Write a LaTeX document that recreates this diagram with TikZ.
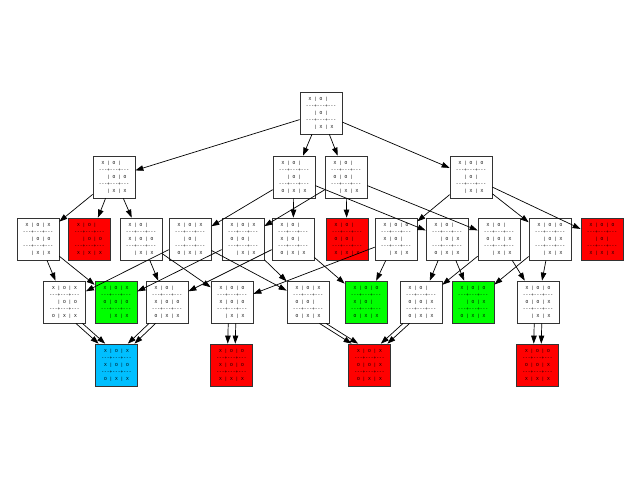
\documentclass[tikz,border=0pt]{standalone}
\usepackage{fontspec}
\newfontfamily\bfont{Liberation Mono}
\usetikzlibrary{arrows.meta}
\definecolor{xwin}{RGB}{255,0,0}
\definecolor{owin}{RGB}{0,255,0}
\definecolor{drawc}{RGB}{0,191,255}
\newcommand\rw[3]{\makebox[8.28pt]{#1}|\makebox[8.28pt]{#2}|\makebox[8.28pt]{#3}}
\newcommand\dl{-{}-{}-+-{}-{}-+-{}-{}-}
\newcommand\bd[9]{\rw{#1}{#2}{#3}\\\dl\\\rw{#4}{#5}{#6}\\\dl\\\rw{#7}{#8}{#9}}
\tikzset{
  board/.style={draw=black!80, line width=0.7pt, fill=white, minimum width=42pt, minimum height=42pt,
    inner sep=0pt, align=center, font=\bfont\fontsize{4.6}{7}\selectfont},
  xw/.style={board, fill=xwin},
  ow/.style={board, fill=owin},
  dr/.style={board, fill=drawc},
  edge/.style={draw=black, line width=0.7pt, -{Triangle[length=8pt,width=5.5pt]}}
}
\begin{document}
\begin{tikzpicture}[x=1pt,y=-1pt]
\useasboundingbox (0,0) rectangle (640,480);
% level 0
\node[board] (r) at (321,113) {\bd{X}{O}{}{}{O}{}{}{X}{X}};
% level 1
\node[board] (a) at (114,177) {\bd{X}{O}{}{}{O}{O}{}{X}{X}};
\node[board] (b) at (294,177) {\bd{X}{O}{}{}{O}{}{O}{X}{X}};
\node[board] (c) at (346,177) {\bd{X}{O}{}{O}{O}{}{}{X}{X}};
\node[board] (d) at (471,177) {\bd{X}{O}{O}{}{O}{}{}{X}{X}};
% level 2
\node[board] (p1) at (38,239) {\bd{X}{O}{X}{}{O}{O}{}{X}{X}};
\node[xw] (p2) at (89.5,239) {\bd{X}{O}{}{}{O}{O}{X}{X}{X}};
\node[board] (p3) at (141,239) {\bd{X}{O}{}{X}{O}{O}{}{X}{X}};
\node[board] (p4) at (190,239) {\bd{X}{O}{X}{}{O}{}{O}{X}{X}};
\node[board] (p5) at (243,239) {\bd{X}{O}{X}{O}{O}{}{}{X}{X}};
\node[board] (p6) at (293,239) {\bd{X}{O}{}{X}{O}{}{O}{X}{X}};
\node[xw] (p7) at (347,239) {\bd{X}{O}{}{O}{O}{}{X}{X}{X}};
\node[board] (p8) at (396,239) {\bd{X}{O}{O}{X}{O}{}{}{X}{X}};
\node[board] (p9) at (447,239) {\bd{X}{O}{}{}{O}{X}{O}{X}{X}};
\node[board] (p10) at (499,239) {\bd{X}{O}{}{O}{O}{X}{}{X}{X}};
\node[board] (p11) at (550,239) {\bd{X}{O}{O}{}{O}{X}{}{X}{X}};
\node[xw] (p12) at (602,239) {\bd{X}{O}{O}{}{O}{}{X}{X}{X}};
% level 3
\node[board] (q1) at (64.5,302) {\bd{X}{O}{X}{}{O}{O}{O}{X}{X}};
\node[ow] (q2) at (116,302) {\bd{X}{O}{X}{O}{O}{O}{}{X}{X}};
\node[board] (q3) at (167,302) {\bd{X}{O}{}{X}{O}{O}{O}{X}{X}};
\node[board] (q4) at (232,302) {\bd{X}{O}{O}{X}{O}{O}{}{X}{X}};
\node[board] (q5) at (308,302) {\bd{X}{O}{X}{O}{O}{}{O}{X}{X}};
\node[ow] (q6) at (366,302) {\bd{X}{O}{O}{X}{O}{}{O}{X}{X}};
\node[board] (q7) at (421,302) {\bd{X}{O}{}{O}{O}{X}{O}{X}{X}};
\node[ow] (q8) at (473,302) {\bd{X}{O}{O}{}{O}{X}{O}{X}{X}};
\node[board] (q9) at (538,302) {\bd{X}{O}{O}{O}{O}{X}{}{X}{X}};
% level 4
\node[dr] (s1) at (116.5,365) {\bd{X}{O}{X}{X}{O}{O}{O}{X}{X}};
\node[xw] (s2) at (231.5,365) {\bd{X}{O}{O}{X}{O}{O}{X}{X}{X}};
\node[xw] (s3) at (369.5,365) {\bd{X}{O}{X}{O}{O}{X}{O}{X}{X}};
\node[xw] (s4) at (537.5,365) {\bd{X}{O}{O}{O}{O}{X}{X}{X}{X}};
% edges
\foreach \u/\v in {r/a,r/b,r/c,r/d,a/p1,a/p2,a/p3,b/p4,b/p6,b/p9,c/p5,c/p7,c/p10,d/p8,d/p11,d/p12,
  p1/q1,p1/q2,p3/q3,p3/q4,p4/q1,p4/q5,p5/q2,p5/q5,p6/q3,p6/q6,p8/q4,p8/q6,p9/q7,p9/q8,p10/q7,p10/q9,p11/q8,p11/q9}
  \draw[edge] (\u) -- (\v);
% doubled edges
\draw[edge] (q1.-62) -- (s1.130);
\draw[edge] (q1.-50) -- (s1.118);
\draw[edge] (q3.-118) -- (s1.50);
\draw[edge] (q3.-130) -- (s1.62);
\draw[edge] (q4.-100) -- (s2.100);
\draw[edge] (q4.-80) -- (s2.80);
\draw[edge] (q5.-62) -- (s3.130);
\draw[edge] (q5.-50) -- (s3.118);
\draw[edge] (q7.-118) -- (s3.50);
\draw[edge] (q7.-130) -- (s3.62);
\draw[edge] (q9.-100) -- (s4.100);
\draw[edge] (q9.-80) -- (s4.80);
\end{tikzpicture}
\end{document}
